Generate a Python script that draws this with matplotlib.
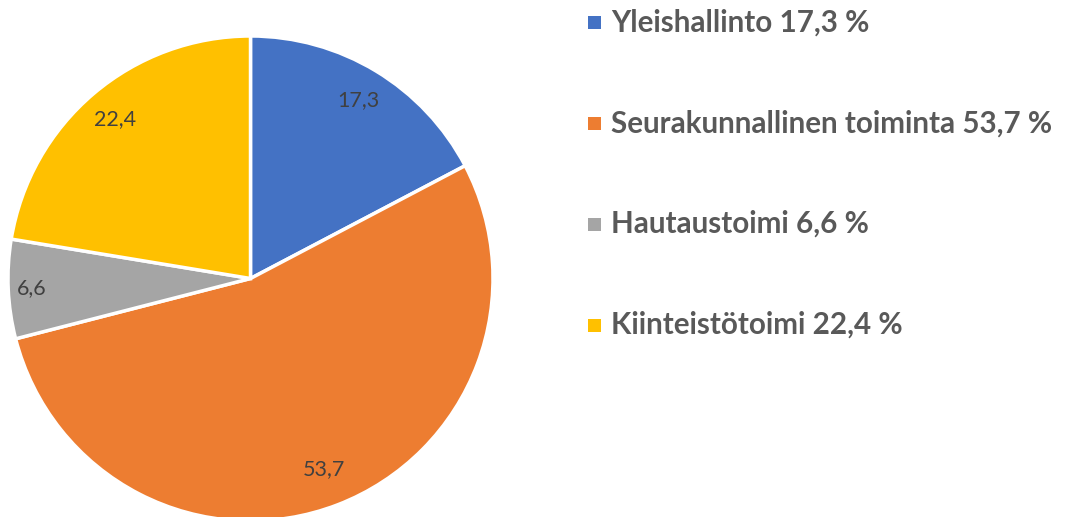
import numpy as np
import matplotlib
matplotlib.use("Agg")
import matplotlib.pyplot as plt
from matplotlib.patches import Rectangle

categories = ["Yleishallinto", "Seurakunnallinen toiminta", "Hautaustoimi", "Kiinteistötoimi"]
values = [17.3, 53.7, 6.6, 22.4]
colors = ["#4472C4", "#ED7D31", "#A5A5A5", "#FFC000"]
label_dist = [0.86, 0.84, 0.905, 0.86]

def fmt(v):
    return f"{v:.1f}".replace(".", ",")

W, H = 1069, 517
fig = plt.figure(figsize=(W / 100, H / 100), dpi=100)
fig.patch.set_facecolor("white")

cx, cy, r = 250.5, 278.5, 242.5
ax = fig.add_axes([(cx - r) / W, (H - cy - r) / H, 2 * r / W, 2 * r / H])
wedges, _ = ax.pie(values, colors=colors, startangle=90, counterclock=False,
                   radius=1.0, wedgeprops=dict(edgecolor="white", linewidth=2.5))
ax.set_xlim(-1, 1)
ax.set_ylim(-1, 1)
ax.set_aspect("equal")
ax.axis("off")
for w, v, d in zip(wedges, values, label_dist):
    ang = np.deg2rad((w.theta1 + w.theta2) / 2)
    ax.text(d * np.cos(ang), d * np.sin(ang), fmt(v), ha="center", va="center",
            fontsize=15.5, color="#404040", family="Lato")

# legend
row_y = [22.5, 123.5, 224, 325]
for cat, v, c, yy in zip(categories, values, colors, row_y):
    fig.add_artist(Rectangle(((588) / W, (H - yy - 6.5) / H), 13 / W, 13 / H,
                             transform=fig.transFigure, facecolor=c, edgecolor="none"))
    fig.text(611 / W, (H - yy) / H, f"{cat} {fmt(v)} %", ha="left", va="center",
             fontsize=21.3, fontweight="bold", color="#595959", family="Lato")

fig.savefig("out.png", dpi=100, facecolor="white")
